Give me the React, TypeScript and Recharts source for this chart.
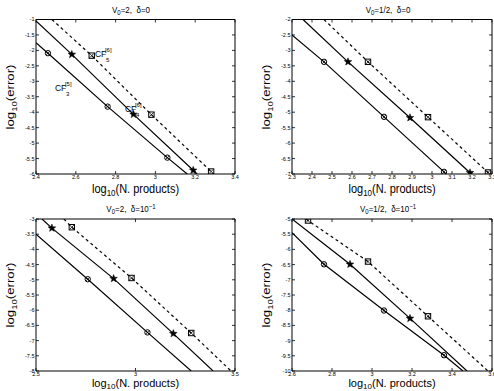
import React from 'react';
import { ComposedChart, Line, XAxis, YAxis, ReferenceDot } from 'recharts';

const FONT = '"Liberation Sans", Arial, Helvetica, sans-serif';

// ---- Top-left: V0=2, delta=0 ----
const tlXTicks = [2.4, 2.6, 2.8, 3, 3.2, 3.4];
const tlYTicks = [-6, -5.5, -5, -4.5, -4, -3.5, -3, -2.5, -2, -1.5, -1];
const tlX3 = [2.4, 2.46, 2.76, 3.06, 3.16];
const tlY3 = [-1.75, -2.09, -3.82, -5.47, -6];
const tlM3 = [0, 1, 1, 1, 0];
const tlX4 = [2.4, 2.58, 2.89, 3.19, 3.21];
const tlY4 = [-1.05, -2.13, -4.07, -5.88, -6];
const tlM4 = [0, 1, 1, 1, 0];
const tlX5 = [2.48, 2.68, 2.98, 3.28, 3.29];
const tlY5 = [-1, -2.17, -4.08, -5.92, -6];
const tlM5 = [0, 1, 1, 1, 0];

// ---- Top-right: V0=1/2, delta=0 ----
const trXTicks = [2.3, 2.4, 2.5, 2.6, 2.7, 2.8, 2.9, 3, 3.1, 3.2, 3.3];
const trYTicks = [-7, -6.5, -6, -5.5, -5, -4.5, -4, -3.5, -3, -2.5, -2];
const trX3 = [2.3, 2.46, 2.76, 3.06, 3.07];
const trY3 = [-2.5, -3.37, -5.15, -6.93, -7];
const trM3 = [0, 1, 1, 1, 0];
const trX4 = [2.355, 2.58, 2.89, 3.19, 3.195];
const trY4 = [-2, -3.37, -5.18, -6.96, -7];
const trM4 = [0, 1, 1, 1, 0];
const trX5 = [2.46, 2.68, 2.98, 3.28, 3.29];
const trY5 = [-2, -3.37, -5.16, -6.95, -7];
const trM5 = [0, 1, 1, 1, 0];

// ---- Bottom-left: V0=2, delta=1e-1 ----
const blXTicks = [2.5, 3, 3.5];
const blYTicks = [-8, -7.5, -7, -6.5, -6, -5.5, -5, -4.5, -4, -3.5, -3];
const blX3 = [2.5, 2.76, 3.06, 3.28];
const blY3 = [-3.5, -4.98, -6.73, -8];
const blM3 = [0, 1, 1, 0];
const blX4 = [2.53, 2.58, 2.89, 3.19, 3.39];
const blY4 = [-3, -3.3, -4.96, -6.77, -8];
const blM4 = [0, 1, 1, 1, 0];
const blX5 = [2.64, 2.68, 2.98, 3.28, 3.48];
const blY5 = [-3, -3.27, -4.94, -6.75, -8];
const blM5 = [0, 1, 1, 1, 0];

// ---- Bottom-right: V0=1/2, delta=1e-1 ----
const brXTicks = [2.6, 2.8, 3, 3.2, 3.4, 3.6];
const brYTicks = [-10, -9.5, -9, -8.5, -8, -7.5, -7, -6.5, -6, -5.5, -5];
const brX3 = [2.6, 2.76, 3.06, 3.36, 3.455];
const brY3 = [-5.45, -6.49, -8.01, -9.48, -10];
const brM3 = [0, 1, 1, 1, 0];
const brX4 = [2.6, 2.89, 3.19, 3.475];
const brY4 = [-5, -6.49, -8.27, -10];
const brM4 = [0, 1, 1, 0];
const brX5 = [2.67, 2.68, 2.98, 3.28, 3.58];
const brY5 = [-5, -5.05, -6.4, -8.2, -10];
const brM5 = [0, 1, 1, 1, 0];

// annotation anchors (data coords, top-left panel)
const annCF5 = { x: 2.696, y: -2.21, sub: '5', sup: '[6]' };
const annCF3 = { x: 2.495, y: -3.31, sub: '3', sup: '[5]' };
const annCF4 = { x: 2.847, y: -3.99, sub: '4', sup: '[6]' };

type Pt = { x: number; y: number; m: number };
const pts = (xs: number[], ys: number[], ms: number[]): Pt[] =>
  xs.map((x, i) => ({ x, y: ys[i], m: ms[i] }));

const CircleMark = ({ cx, cy }: any) => (
  <g>
    <circle cx={cx} cy={cy} r={2.7} fill="none" stroke="#000" strokeWidth={1} />
    <path
      d={`M${cx - 1.8} ${cy - 1.8}L${cx + 1.8} ${cy + 1.8}M${cx - 1.8} ${cy + 1.8}L${cx + 1.8} ${cy - 1.8}`}
      stroke="#000"
      strokeWidth={0.8}
    />
  </g>
);

const SquareMark = ({ cx, cy }: any) => (
  <g>
    <rect x={cx - 2.7} y={cy - 2.7} width={5.4} height={5.4} fill="none" stroke="#000" strokeWidth={1} />
    <path
      d={`M${cx - 2.2} ${cy - 2.2}L${cx + 2.2} ${cy + 2.2}M${cx - 2.2} ${cy + 2.2}L${cx + 2.2} ${cy - 2.2}`}
      stroke="#000"
      strokeWidth={0.8}
    />
  </g>
);

const StarMark = ({ cx, cy }: any) => {
  const R = 4;
  const r = 1.7;
  let d = '';
  for (let i = 0; i < 10; i++) {
    const a = -Math.PI / 2 + (i * Math.PI) / 5;
    const rad = i % 2 === 0 ? R : r;
    d += (i === 0 ? 'M' : 'L') + (cx + rad * Math.cos(a)).toFixed(2) + ' ' + (cy + rad * Math.sin(a)).toFixed(2);
  }
  d += 'Z';
  return <path d={d} fill="#000" stroke="#000" strokeWidth={0.5} />;
};

const makeDot = (Mark: any) => (props: any) => {
  const { cx, cy, payload, index } = props;
  if (!payload || !payload.m || cx == null || cy == null) return <g key={`d${index}`} />;
  return (
    <g key={`d${index}`}>
      <Mark cx={cx} cy={cy} />
    </g>
  );
};

const AnnShape = (sub: string, sup: string) => (props: any) => {
  const { cx, cy } = props;
  return (
    <g>
      <text x={cx} y={cy} fontSize={8.5} fontFamily={FONT} fill="#000" stroke="none">
        CF
      </text>
      <text x={cx + 10} y={cy - 4.5} fontSize={6} fontFamily={FONT} fill="#000" stroke="none">
        {sup}
      </text>
      <text x={cx + 11} y={cy + 5.5} fontSize={6} fontFamily={FONT} fill="#000" stroke="none">
        {sub}
      </text>
    </g>
  );
};

const tickStyle = { fontSize: 5.5, fill: '#000', fontFamily: FONT };

function Panel(props: any) {
  const { left, top, width, height, margin, yw, xh, xDomain, xTicks, yDomain, yTicks, s3, s4, s5, ann } = props;
  return (
    <div style={{ position: 'absolute', left, top }}>
      <ComposedChart width={width} height={height} margin={margin}>
        <XAxis
          xAxisId="b"
          type="number"
          dataKey="x"
          orientation="bottom"
          domain={xDomain}
          ticks={xTicks}
          interval={0}
          allowDataOverflow
          height={xh}
          tickSize={-3}
          tickMargin={4.5}
          tick={tickStyle}
          axisLine={{ stroke: '#000', strokeWidth: 1 }}
          tickLine={{ stroke: '#000', strokeWidth: 0.8 }}
        />
        <XAxis
          xAxisId="t"
          type="number"
          dataKey="x"
          orientation="top"
          domain={xDomain}
          ticks={xTicks}
          interval={0}
          allowDataOverflow
          height={1}
          tickSize={-3}
          tickFormatter={() => ''}
          axisLine={{ stroke: '#000', strokeWidth: 1 }}
          tickLine={{ stroke: '#000', strokeWidth: 0.8 }}
        />
        <YAxis
          yAxisId="l"
          type="number"
          orientation="left"
          domain={yDomain}
          ticks={yTicks}
          interval={0}
          allowDataOverflow
          width={yw}
          tickSize={-3}
          tickMargin={4.5}
          tick={tickStyle}
          axisLine={{ stroke: '#000', strokeWidth: 1 }}
          tickLine={{ stroke: '#000', strokeWidth: 0.8 }}
        />
        <YAxis
          yAxisId="r"
          type="number"
          orientation="right"
          domain={yDomain}
          ticks={yTicks}
          interval={0}
          allowDataOverflow
          width={1}
          tickSize={-3}
          tickFormatter={() => ''}
          axisLine={{ stroke: '#000', strokeWidth: 1 }}
          tickLine={{ stroke: '#000', strokeWidth: 0.8 }}
        />
        <Line
          data={s3}
          dataKey="y"
          xAxisId="b"
          yAxisId="l"
          type="linear"
          stroke="#000"
          strokeWidth={1.2}
          dot={makeDot(CircleMark)}
          activeDot={false}
          isAnimationActive={false}
        />
        <Line
          data={s4}
          dataKey="y"
          xAxisId="b"
          yAxisId="l"
          type="linear"
          stroke="#000"
          strokeWidth={1.2}
          dot={makeDot(StarMark)}
          activeDot={false}
          isAnimationActive={false}
        />
        <Line
          data={s5}
          dataKey="y"
          xAxisId="b"
          yAxisId="l"
          type="linear"
          stroke="#000"
          strokeWidth={1.2}
          strokeDasharray="3 3"
          dot={makeDot(SquareMark)}
          activeDot={false}
          isAnimationActive={false}
        />
        {(ann || []).map((a: any, i: number) => (
          <ReferenceDot
            key={`ann${i}`}
            xAxisId="b"
            yAxisId="l"
            x={a.x}
            y={a.y}
            r={0}
            fill="#000"
            stroke="none"
            shape={AnnShape(a.sub, a.sup)}
          />
        ))}
      </ComposedChart>
    </div>
  );
}

const YLabel = ({ x, y }: any) => (
  <text
    transform={`translate(${x},${y}) rotate(-90) scale(1.2,1)`}
    textAnchor="middle"
    fontSize={11}
    fontFamily={FONT}
    fill="#000"
  >
    log
    <tspan fontSize={8} dy={3}>
      10
    </tspan>
    <tspan dy={-3}>(error)</tspan>
  </text>
);

const XLabel = ({ x, y, sy }: any) => (
  <text
    transform={`translate(${x},${y}) scale(1,${sy})`}
    textAnchor="middle"
    fontSize={11}
    fontFamily={FONT}
    fill="#000"
  >
    log
    <tspan fontSize={8} dy={2.5}>
      10
    </tspan>
    <tspan dy={-2.5}>(N. products)</tspan>
  </text>
);

const Title = ({ x, y, v, d, sup }: any) => (
  <text
    transform={`translate(${x},${y}) scale(1,1.15)`}
    textAnchor="middle"
    fontSize={8}
    fontFamily={FONT}
    fill="#000"
    style={{ whiteSpace: 'pre' }}
  >
    V
    <tspan fontSize={6} dy={2}>
      0
    </tspan>
    <tspan dy={-2}>{`=${v},  \u03b4=${d}`}</tspan>
    {sup ? (
      <tspan fontSize={6} dy={-3}>
        {sup}
      </tspan>
    ) : null}
  </text>
);

export default function App() {
  return (
    <div style={{ position: 'absolute', left: 0, top: 0, width: 494, height: 391, background: '#fff' }}>
      <Panel
        left={0}
        top={0}
        width={247}
        height={195}
        margin={{ top: 18.5, right: 11, bottom: 0, left: 0 }}
        yw={36}
        xh={21}
        xDomain={[2.4, 3.4]}
        xTicks={tlXTicks}
        yDomain={[-6, -1]}
        yTicks={tlYTicks}
        s3={pts(tlX3, tlY3, tlM3)}
        s4={pts(tlX4, tlY4, tlM4)}
        s5={pts(tlX5, tlY5, tlM5)}
        ann={[annCF5, annCF3, annCF4]}
      />
      <Panel
        left={247}
        top={0}
        width={247}
        height={195}
        margin={{ top: 18.5, right: 1, bottom: 0, left: 0 }}
        yw={45}
        xh={21}
        xDomain={[2.3, 3.3]}
        xTicks={trXTicks}
        yDomain={[-7, -2]}
        yTicks={trYTicks}
        s3={pts(trX3, trY3, trM3)}
        s4={pts(trX4, trY4, trM4)}
        s5={pts(trX5, trY5, trM5)}
      />
      <Panel
        left={0}
        top={195}
        width={247}
        height={196}
        margin={{ top: 23, right: 11, bottom: 0, left: 0 }}
        yw={36}
        xh={20}
        xDomain={[2.5, 3.5]}
        xTicks={blXTicks}
        yDomain={[-8, -3]}
        yTicks={blYTicks}
        s3={pts(blX3, blY3, blM3)}
        s4={pts(blX4, blY4, blM4)}
        s5={pts(blX5, blY5, blM5)}
      />
      <Panel
        left={247}
        top={195}
        width={247}
        height={196}
        margin={{ top: 23, right: 1, bottom: 0, left: 0 }}
        yw={45}
        xh={20}
        xDomain={[2.6, 3.6]}
        xTicks={brXTicks}
        yDomain={[-10, -5]}
        yTicks={brYTicks}
        s3={pts(brX3, brY3, brM3)}
        s4={pts(brX4, brY4, brM4)}
        s5={pts(brX5, brY5, brM5)}
      />
      <svg
        width={494}
        height={391}
        style={{ position: 'absolute', left: 0, top: 0, pointerEvents: 'none', overflow: 'visible' }}
      >
        <Title x={131} y={13} v="2" d="0" />
        <Title x={388} y={13} v="1/2" d="0" />
        <Title x={131} y={212} v="2" d="10" sup={'\u22121'} />
        <Title x={388} y={212} v="1/2" d="10" sup={'\u22121'} />
        <XLabel x={135.5} y={193} sy={1.15} />
        <XLabel x={392} y={193} sy={1.15} />
        <XLabel x={135.5} y={386.5} sy={1} />
        <XLabel x={392} y={386.5} sy={1} />
        <YLabel x={14} y={97} />
        <YLabel x={270} y={97} />
        <YLabel x={14} y={295} />
        <YLabel x={270} y={295} />
      </svg>
    </div>
  );
}
